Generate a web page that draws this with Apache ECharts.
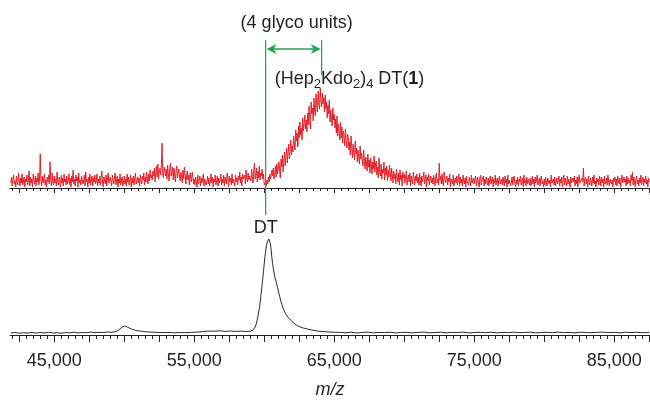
<!DOCTYPE html>
<html>
<head>
<meta charset="utf-8">
<script src="https://cdn.jsdelivr.net/npm/echarts@6/dist/echarts.min.js"></script>
<style>
html,body{margin:0;padding:0;background:#fff;}
#chart{width:650px;height:400px;}
</style>
</head>
<body>
<div id="chart"></div>
<script>
// ---------- data ----------
// x-axis range (m/z)
var mzMin = 41840;
var mzMax = 87555;
// tick labels on the lower axis
var tickLabels = [45000, 55000, 65000, 75000, 85000];
// long ticks
var majorTicks = [42500, 45000, 47500, 50000, 52500, 55000, 57500, 60000, 62500, 65000, 67500, 70000, 72500, 75000, 77500, 80000, 82500, 85000, 87500];

// upper (red) spectrum: sampled every 50 m/z starting at 41900, relative intensity
var redStart = 41900;
var redStep = 50;
var redIntensity = [
  5,11,
  2,9,13,4,7,1,12,6,3,15,8,2,10,5,14,3,7,11,1,9,
  6,13,3,8,17,2,11,5,9,1,14,7,4,12,2,10,6,15,3,8,
  34,7,2,12,5,9,14,3,8,1,11,6,13,4,26,9,2,15,6,3,
  12,5,9,2,16,7,3,11,8,1,13,5,10,2,14,6,9,3,12,4,
  8,14,3,10,1,12,6,18,4,9,2,13,7,11,1,15,5,8,3,12,
  10,4,7,13,2,16,6,9,1,11,5,14,3,8,12,2,10,6,13,4,
  7,14,2,9,5,12,3,10,17,6,1,11,8,4,13,2,9,15,5,3,
  11,6,2,13,8,4,10,15,3,7,12,1,9,5,14,3,8,11,2,6,
  12,4,9,2,14,6,11,3,8,13,1,10,5,12,3,9,15,4,7,11,
  5,10,2,13,7,4,12,8,15,3,11,6,16,9,4,14,7,18,10,13,
  8,17,12,20,6,15,22,11,24,9,16,20,13,23,45,14,10,21,17,12,
  19,9,23,14,7,18,25,12,16,21,8,20,13,6,17,22,10,15,19,11,
  7,16,12,5,18,9,21,14,4,11,17,8,13,3,15,10,6,16,12,4,
  9,3,11,6,1,13,4,8,12,2,10,5,7,14,2,9,11,3,6,12,
  4,10,2,8,14,5,11,1,9,6,13,3,7,12,2,10,5,8,14,3,
  9,5,13,2,11,7,4,15,8,1,12,6,10,3,14,5,9,11,2,13,
  6,10,3,12,8,16,5,11,2,14,9,7,13,4,18,10,6,15,8,12,
  14,7,19,11,5,16,25,9,13,20,6,17,10,22,8,15,12,19,9,14,
  3,1,6,2,8,4,11,6,14,9,7,18,12,20,9,15,22,11,24,14,
  13,26,18,10,29,21,33,16,27,36,22,31,40,25,35,44,29,38,48,33,
  42,36,52,44,38,58,47,55,41,62,50,66,53,60,48,70,57,64,73,59,
  68,56,75,63,82,70,59,86,74,80,67,90,78,72,94,83,76,97,85,79,
  100,88,81,95,84,90,76,93,79,86,70,83,74,88,66,78,71,62,80,68,
  74,60,69,55,72,52,64,58,48,66,50,61,45,57,52,42,59,47,40,54,
  50,38,46,33,52,41,30,44,36,28,47,34,40,26,38,31,24,42,29,35,
  33,22,38,27,19,31,25,17,34,21,28,15,30,23,14,26,19,32,16,24,
  27,13,21,10,30,17,12,24,9,19,15,26,8,20,13,22,7,18,11,23,
  16,7,20,12,5,17,9,14,4,19,11,6,15,3,18,8,13,2,16,10,
  14,5,11,17,3,9,13,6,15,2,12,8,4,16,10,3,12,7,14,5,
  11,3,15,8,2,12,6,10,16,4,9,13,1,11,7,14,3,9,12,5,
  10,4,13,7,2,11,15,5,9,3,25,8,12,4,14,6,2,16,10,5,
  8,12,3,10,6,14,1,9,11,4,13,2,7,10,5,12,3,8,14,2,
  11,5,9,2,13,7,4,10,1,12,6,8,3,11,9,2,13,5,7,10,
  4,9,12,2,7,11,5,1,10,13,3,8,6,12,2,9,4,11,7,3,
  10,2,8,12,4,6,11,1,9,5,13,3,7,10,2,8,12,4,6,9,
  3,11,7,2,12,5,9,1,13,4,8,10,2,6,11,3,9,12,5,1,
  8,4,11,2,9,6,12,3,7,10,1,13,5,8,2,11,4,9,6,3,
  10,2,7,12,4,9,1,11,5,8,13,3,6,10,2,9,12,4,7,1,
  9,3,11,6,2,10,12,4,8,1,13,5,7,9,3,11,2,6,10,4,
  7,12,2,9,5,11,1,8,13,3,10,6,2,12,4,9,7,1,11,5,
  3,10,6,12,2,8,4,11,1,9,13,5,7,3,10,6,20,2,8,11,
  4,9,1,12,6,3,10,8,2,11,5,13,4,7,1,10,6,9,3,12,
  8,2,11,5,9,1,12,4,7,10,3,13,6,2,9,11,4,8,1,10,
  6,11,3,9,2,12,7,4,10,1,8,13,5,3,11,6,9,2,12,4,
  10,5,8,2,13,7,16,3,11,6,1,9,12,4,8,2,10,5,13,3,
  7,11,2,9,5,12,4,8,1,10,6
];

// lower (black) spectrum: [m/z, relative intensity]
var blackSpectrum = [
  [41900,2],[42200,2.5],[42500,1.8],[42800,2.3],[43100,2],[43400,2.6],[43700,1.9],[44000,2.4],
  [44300,2.1],[44600,2.7],[44900,2],[45200,2.3],[45500,1.8],[45800,2.5],[46100,2.2],[46400,2.8],
  [46700,2.1],[47000,2.6],[47300,2.3],[47600,2.9],[47900,2.4],[48200,2.7],[48500,2.5],[48800,3],
  [49100,2.8],[49400,3.3],[49600,5],[49800,7.5],[50000,9],[50200,8.2],[50400,6.8],[50600,5.6],
  [50800,4.8],[51000,4.2],[51300,3.6],[51600,3.2],[52000,2.8],[52400,2.6],[52800,2.4],[53200,2.6],
  [53600,2.3],[54000,2.5],[54400,2.4],[54800,2.7],[55200,2.9],[55600,3.5],[56000,4],[56400,3.8],
  [56800,4.2],[57200,3.7],[57600,4],[58000,3.6],[58400,3.9],[58800,3.5],[59050,4],[59200,5],
  [59350,8],[59450,12],[59550,19],[59650,27],[59750,38],[59850,51],[59950,65],[60050,79],
  [60150,90],[60220,94],[60280,92],[60330,97],[60380,98],[60430,93],[60480,88],[60540,79],
  [60600,72],[60650,67],[60750,59],[60850,54],[60950,48],[61100,39],[61250,31],[61400,25],
  [61550,21],[61700,18],[61900,15],[62100,12],[62300,10],[62500,8.5],[62800,7],[63100,6],
  [63400,5],[63800,4],[64200,3.5],[64600,3],[65000,2.8],[65400,2.6],[65800,2.3],[66200,2.8],
  [66600,2.1],[67000,2.5],[67400,2.9],[67800,2.2],[68200,2.6],[68600,2.4],[69000,2.8],[69400,2.1],
  [69800,2.5],[70200,2.7],[70600,2.2],[71000,2.6],[71400,2.9],[71800,2.3],[72200,2.5],[72600,2.8],
  [73000,2.2],[73400,2.6],[73800,2.4],[74200,2.9],[74600,2.1],[75000,2.5],[75400,2.7],[75800,2.3],
  [76200,2.8],[76600,2.2],[77000,2.6],[77400,2.4],[77800,2.9],[78200,2.3],[78600,2.6],[79000,2.8],
  [79400,2.2],[79800,2.5],[80200,2.7],[80600,2.3],[81000,2.9],[81400,2.4],[81800,2.6],[82200,2.2],
  [82600,2.8],[83000,2.5],[83400,2.3],[83800,2.7],[84200,2.9],[84600,2.4],[85000,2.6],[85400,2.2],
  [85800,2.8],[86200,2.5],[86600,2.7],[87000,2.3],[87500,2.6]
];

// annotation positions (m/z)
var markerDT = 60100;
var markerConj = 64100;

// ---------- chart ----------
var FONT = '"Liberation Sans", Arial, Helvetica, sans-serif';
var TXT = '#231f20';
var GREEN = '#1fa44c';

var minorTicks = [];
for (var t = 42000; t <= 87500; t += 500) minorTicks.push(t);

var redData = redIntensity.map(function (v, i) { return [redStart + i * redStep, v]; });

function xAxisPair(grid, withLabels, longLen, shortLen) {
  return [
    {
      type: 'value', gridIndex: grid, min: mzMin, max: mzMax, position: 'bottom', offset: 0,
      axisLine: { show: true, onZero: false, lineStyle: { color: '#222', width: 1 } },
      axisTick: { show: true, customValues: majorTicks, length: longLen, lineStyle: { color: '#222', width: 1 } },
      axisLabel: withLabels ? {
        show: true, customValues: tickLabels, margin: 17, fontSize: 18, color: TXT, fontFamily: FONT,
        formatter: function (v) { return Number(v).toLocaleString('en-US'); }
      } : { show: false },
      splitLine: { show: false },
      name: withLabels ? 'm/z' : '',
      nameLocation: 'middle', nameGap: 46,
      nameTextStyle: { fontSize: 18, fontStyle: 'italic', color: TXT, fontFamily: FONT }
    },
    {
      type: 'value', gridIndex: grid, min: mzMin, max: mzMax, position: 'bottom', offset: 0,
      axisLine: { show: false, onZero: false },
      axisTick: { show: true, customValues: minorTicks, length: shortLen, lineStyle: { color: '#222', width: 1 } },
      axisLabel: { show: false },
      splitLine: { show: false }
    }
  ];
}

var chart = echarts.init(document.getElementById('chart'), null, { renderer: 'canvas' });

var xAxes = xAxisPair(0, false, 5, 3).concat(xAxisPair(1, true, 7, 4));

chart.setOption({
  animation: false,
  backgroundColor: '#fff',
  grid: [
    { left: 10, right: 0, top: 88, height: 100 },
    { left: 10, right: 0, top: 236, height: 100 }
  ],
  xAxis: xAxes,
  yAxis: [
    { type: 'value', gridIndex: 0, min: 0, max: 100, show: false },
    { type: 'value', gridIndex: 1, min: 0, max: 100, show: false }
  ],
  series: [
    {
      type: 'line', xAxisIndex: 0, yAxisIndex: 0, data: redData,
      symbol: 'none', clip: false,
      lineStyle: { color: '#e41e26', width: 1 }
    },
    {
      type: 'line', xAxisIndex: 2, yAxisIndex: 1, data: blackSpectrum,
      symbol: 'none', clip: false,
      lineStyle: { color: '#2a2a2a', width: 1 }
    }
  ]
});

var xL = chart.convertToPixel({ xAxisIndex: 0 }, markerDT);
var xR = chart.convertToPixel({ xAxisIndex: 0 }, markerConj);
var yArrow = 49;

chart.setOption({
  graphic: [
    { type: 'line', shape: { x1: xL, y1: 40, x2: xL, y2: 215 }, style: { stroke: GREEN, lineWidth: 1.2 }, z: 10 },
    { type: 'line', shape: { x1: xR, y1: 40, x2: xR, y2: 75 }, style: { stroke: GREEN, lineWidth: 1.2 }, z: 10 },
    { type: 'line', shape: { x1: xL + 4, y1: yArrow, x2: xR - 4, y2: yArrow }, style: { stroke: GREEN, lineWidth: 1.6 }, z: 10 },
    { type: 'polygon', shape: { points: [[xL + 1, yArrow], [xL + 11, yArrow - 5], [xL + 8, yArrow], [xL + 11, yArrow + 5]] }, style: { fill: GREEN }, z: 10 },
    { type: 'polygon', shape: { points: [[xR - 1, yArrow], [xR - 11, yArrow - 5], [xR - 8, yArrow], [xR - 11, yArrow + 5]] }, style: { fill: GREEN }, z: 10 },
    {
      type: 'text', x: (xL + xR) / 2 + 3, y: 23, z: 10,
      style: { text: '(4 glyco units)', fill: TXT, font: '18px ' + FONT, align: 'center', verticalAlign: 'middle' }
    },
    {
      type: 'text', x: xL + 9, y: 79, z: 10,
      style: {
        text: '{m|(Hep}{s|2}{m|Kdo}{s|2}{m|)}{s|4}{m| DT(}{b|1}{m|)}',
        align: 'left', verticalAlign: 'middle',
        rich: {
          m: { fontSize: 18, fontFamily: FONT, fill: TXT, color: TXT, lineHeight: 24, verticalAlign: 'middle' },
          s: { fontSize: 13, fontFamily: FONT, fill: TXT, color: TXT, lineHeight: 24, verticalAlign: 'bottom' },
          b: { fontSize: 18, fontFamily: FONT, fontWeight: 'bold', fill: TXT, color: TXT, lineHeight: 24, verticalAlign: 'middle' }
        }
      }
    },
    {
      type: 'text', x: xL, y: 228, z: 10,
      style: { text: 'DT', fill: TXT, font: '18px ' + FONT, align: 'center', verticalAlign: 'middle' }
    }
  ]
});
</script>
</body>
</html>
